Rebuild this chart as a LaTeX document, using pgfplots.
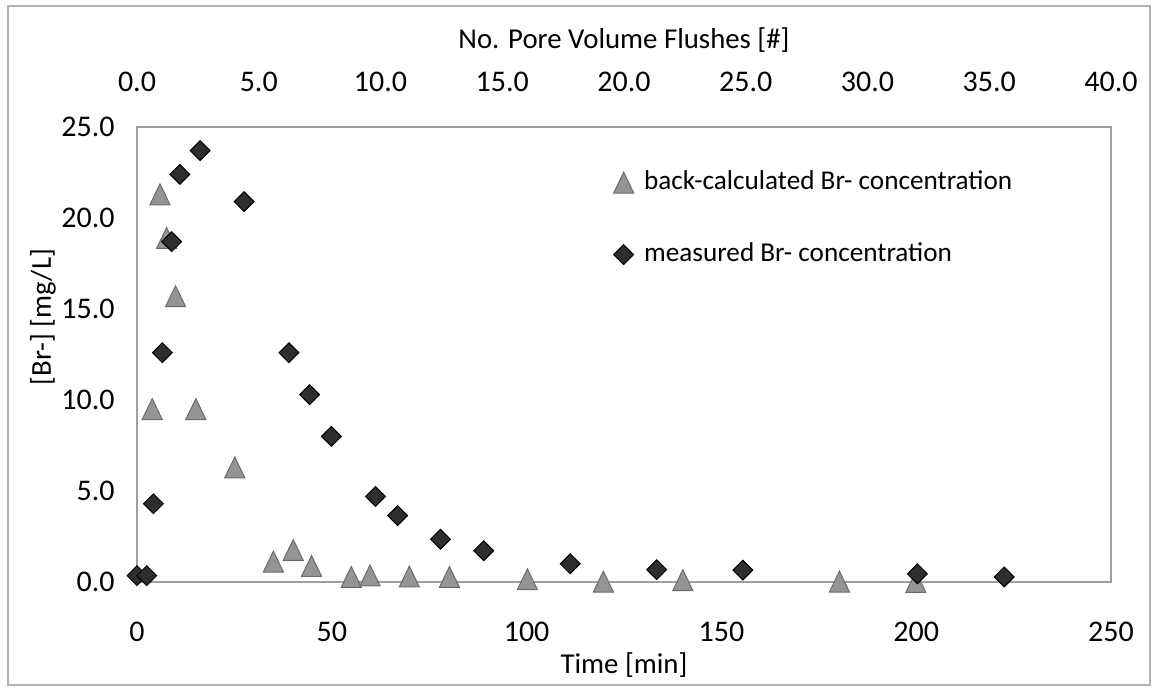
\documentclass[border=0pt]{standalone}
\usepackage{fontspec}
\setmainfont{Carlito}
\usepackage{pgfplots}
\pgfplotsset{compat=1.18}
\newcommand{\chartfont}{\fontsize{15}{18}\selectfont}
\newcommand{\labelfont}{\fontsize{14.4}{17}\selectfont}
\newcommand{\legfont}{\fontsize{13.6}{16}\selectfont}
\definecolor{trifill}{gray}{0.58}
\definecolor{tridraw}{gray}{0.42}
\definecolor{diafill}{gray}{0.18}
\begin{document}
\begin{tikzpicture}
\useasboundingbox (-68.5pt,-52.5pt) rectangle (508.5pt,291pt);
\draw[gray!60, line width=0.6pt] (-64.5pt,-51.5pt) rectangle (506.5pt,288pt);
\begin{axis}[
  at={(0pt,0pt)}, anchor=south west,
  scale only axis, width=487pt, height=227.5pt,
  xmin=0, xmax=250, ymin=0, ymax=25,
  xtick={0,50,...,250}, ytick={0,5,...,25},
  axis line style={gray!75, line width=0.6pt},
  major tick length=0pt,
  clip=false,
  /pgf/number format/assume math mode=true,
  yticklabel style={/pgf/number format/fixed, /pgf/number format/fixed zerofill, /pgf/number format/precision=1},
  every tick label/.append style={font=\chartfont},
  xticklabel style={anchor=center, yshift=-25pt},
  yticklabel style={anchor=east, inner sep=0pt, xshift=-11pt},
  xlabel={Time [min]},
  ylabel={[Br-] [mg/L]},
  every axis x label/.style={at={(rel axis cs:0.5,0)}, anchor=center, yshift=-41.5pt, font=\labelfont},
  every axis y label/.style={at={(rel axis cs:0,0.582)}, xshift=-47pt, anchor=center, rotate=90, font=\labelfont},
  legend style={at={(0.489,0.914)}, anchor=north west, draw=none, fill=none, inner sep=0pt, outer sep=0pt,
    font=\legfont, row sep=19.5pt, nodes={inner sep=2pt, text height=9.5pt, text depth=3pt}},
  legend cell align=left,
  legend image code/.code={\path (-5pt,0pt) (8pt,0pt); \draw[mark repeat=2, mark phase=2, #1] plot coordinates {(-5pt,0pt) (0pt,0pt) (5pt,0pt)};},
]
\addplot[only marks, mark=triangle*, mark size=5.8pt,
  mark options={yshift=-1.74pt, yscale=1.2, fill=trifill, draw=tridraw, line width=0.5pt}]
  coordinates {
  (3.9,9.5) (5.9,21.3) (7.6,18.9) (9.9,15.7) (15.1,9.5) (25.1,6.3)
  (35.0,1.12) (40.1,1.76) (44.8,0.88) (55.0,0.28) (59.8,0.36) (69.9,0.3)
  (80.2,0.28) (100.2,0.15) (119.7,0.02) (140.1,0.1) (180.3,0.02) (199.9,0.0)
  };
\addlegendentry{back-calculated Br- concentration}
\addplot[only marks, mark=square*, mark size=3.5pt,
  mark options={rotate=45, fill=diafill, draw=black, line width=0.5pt}]
  coordinates {
  (0,0.35) (2.5,0.35) (4.2,4.3) (6.5,12.6) (8.9,18.7) (11.0,22.4) (16.2,23.7)
  (27.5,20.9) (39.0,12.6) (44.3,10.3) (49.9,8.0) (61.2,4.7) (66.9,3.65)
  (77.9,2.35) (89.0,1.72) (111.2,1.0) (133.4,0.68) (155.5,0.65) (200.3,0.45) (222.6,0.28)
  };
\addlegendentry{measured Br- concentration}
\end{axis}
\begin{axis}[
  at={(0pt,0pt)}, anchor=south west,
  scale only axis, width=487pt, height=227.5pt,
  xmin=0, xmax=40, ymin=0, ymax=25,
  axis x line*=top, axis y line=none,
  xtick={0,5,...,40},
  axis line style={gray!75, line width=0.6pt},
  major tick length=0pt,
  /pgf/number format/assume math mode=true,
  xticklabel style={/pgf/number format/fixed, /pgf/number format/fixed zerofill, /pgf/number format/precision=1},
  every tick label/.append style={font=\chartfont},
  xticklabel style={anchor=center, yshift=22.5pt},
  xlabel={No. Pore Volume Flushes [\#]},
  every axis x label/.style={at={(rel axis cs:0.5,1)}, anchor=center, yshift=43.5pt, font=\labelfont},
]
\end{axis}
\end{tikzpicture}
\end{document}
